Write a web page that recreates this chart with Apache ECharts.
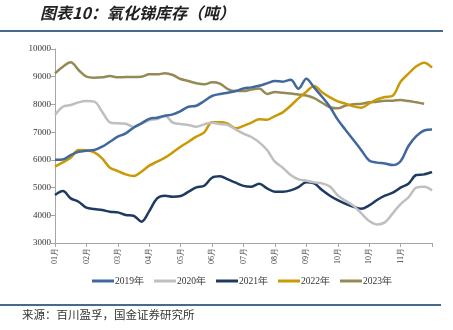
<!DOCTYPE html>
<html>
<head>
<meta charset="utf-8">
<script src="https://cdn.jsdelivr.net/npm/echarts@6/dist/echarts.min.js"></script>
<style>
html,body{margin:0;padding:0;background:#fff;}
#main{width:453px;height:330px;}
</style>
</head>
<body>
<div id="main"></div>
<script>
// Tick labels shown every 4th weekly point
var tickLabels = ['01月','02月','03月','04月','05月','06月','07月','08月','09月','10月','10月','11月'];
// Weekly categories (49 weeks)
var categories = [];
for (var i = 0; i < 49; i++) { categories.push('W' + (i + 1)); }

var years = ['2019年','2020年','2021年','2022年','2023年'];

var s2019 = [6000,6010,6170,6290,6330,6355,6475,6655,6836,6956,7160,7317,7480,7521,7594,7642,7762,7918,7954,8123,8304,8376,8424,8484,8575,8616,8676,8761,8845,8821,8890,8570,8930,8604,8279,7918,7450,7080,6720,6350,5980,5900,5870,5813,5950,6500,6860,7060,7095];
var s2020 = [7618,7918,7979,8075,8120,8100,7738,7353,7317,7305,7185,7305,7430,7473,7594,7341,7293,7257,7197,7281,7341,7293,7257,7100,6950,6824,6631,6355,5934,5717,5452,5296,5248,5188,5150,5040,4720,4520,4345,4069,3792,3672,3744,4069,4406,4646,4995,5031,4899];
var s2021 = [4731,4875,4610,4490,4274,4225,4189,4129,4105,4009,3985,3770,4150,4610,4706,4670,4695,4851,5007,5067,5356,5404,5296,5176,5060,5031,5139,4971,4851,4851,4899,5019,5190,5150,4911,4706,4545,4410,4310,4237,4358,4550,4706,4815,4995,5139,5452,5476,5560];
var s2022 = [5753,5909,6078,6355,6343,6270,6054,5717,5597,5476,5416,5572,5790,5934,6078,6270,6475,6655,6836,6992,7353,7353,7305,7136,7225,7341,7461,7449,7582,7714,7954,8219,8460,8664,8436,8255,8110,8030,7931,7883,8039,8183,8268,8316,8821,9109,9374,9506,9326];
var s2023 = [9121,9362,9520,9242,9001,8965,8977,9025,8977,8989,8989,9001,9085,9085,9121,9061,8917,8845,8761,8725,8797,8749,8556,8484,8484,8540,8575,8380,8450,8424,8395,8360,8320,8230,8060,7900,7860,7960,8010,8027,8075,8099,8135,8135,8159,8123,8075,8027];

var colors = ['#41689E','#BFBFBF','#1E3A63','#C99A06','#948A56'];
var seriesData = [s2019, s2020, s2021, s2022, s2023];

var chart = echarts.init(document.getElementById('main'), null, {renderer:'canvas'});
var serif = '"Liberation Serif", "Times New Roman", serif';
var cjk = '"Noto Sans CJK SC", sans-serif';

var series = years.map(function(name, i){
  return {
    name: name,
    type: 'line',
    data: seriesData[i],
    smooth: 0.35,
    showSymbol: false,
    symbol: 'none',
    lineStyle: {width: 2.5, color: colors[i]},
    itemStyle: {color: colors[i]},
    z: 10 - i
  };
});

chart.setOption({
  animation: false,
  backgroundColor: '#fff',
  grid: {left: 55, right: 21, top: 49, bottom: 87, containLabel: false},
  legend: {
    data: years,
    left: 87, top: 271,
    icon: 'rect', itemWidth: 22, itemHeight: 3, itemGap: 10,
    textStyle: {fontFamily: serif, fontSize: 9.5, color: '#333', padding: [0,0,0,-4]}
  },
  xAxis: {
    type: 'category',
    data: categories,
    boundaryGap: false,
    axisLine: {lineStyle: {color: '#A6A6A6', width: 1}},
    axisTick: {show: true, interval: 3, length: 4, lineStyle: {color: '#A6A6A6'}},
    axisLabel: {
      interval: 3, rotate: 90, fontFamily: serif, fontSize: 8, color: '#444', margin: 5,
      formatter: function(v, idx){ return idx % 4 === 0 ? (tickLabels[idx/4] || '') : ''; }
    },
    splitLine: {show: false}
  },
  yAxis: {
    type: 'value',
    min: 3000, max: 10000, interval: 1000,
    axisLine: {show: true, lineStyle: {color: '#A6A6A6', width: 1}},
    axisTick: {show: true, length: 4, lineStyle: {color: '#A6A6A6'}},
    axisLabel: {fontFamily: serif, fontSize: 9, color: '#333', margin: 4,
      formatter: function(v){ return String(v); }},
    splitLine: {show: false}
  },
  graphic: [
    {type: 'text', left: 40, top: 5, style: {text: '图表10：氧化锑库存（吨）', font: 'italic bold 16px ' + cjk, fill: '#222'}},
    {type: 'rect', shape: {x: 0, y: 30, width: 443, height: 2}, style: {fill: '#47698C'}},
    {type: 'rect', shape: {x: 0, y: 304, width: 441, height: 2}, style: {fill: '#47698C'}},
    {type: 'text', left: 22, top: 309, style: {text: '来源：百川盈孚，国金证券研究所', font: '11.5px ' + cjk, fill: '#333'}}
  ],
  series: series
});
</script>
</body>
</html>
